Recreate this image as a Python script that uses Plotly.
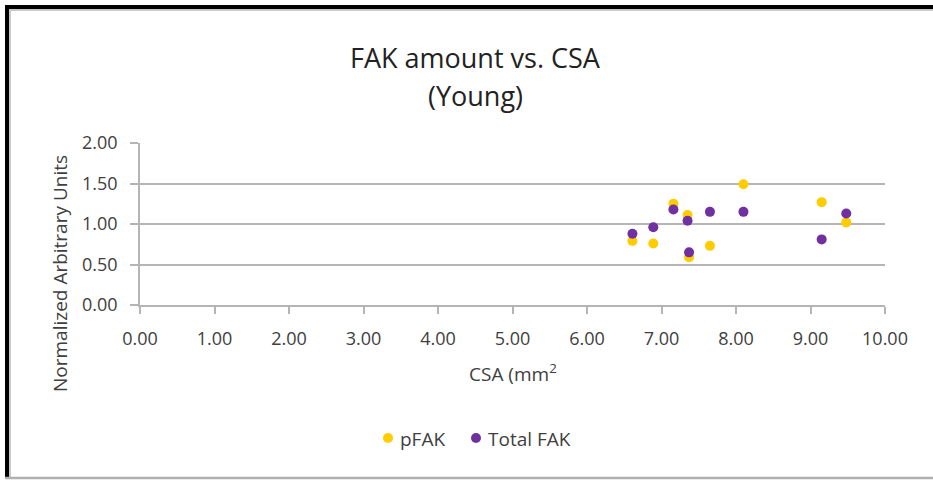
import plotly.graph_objects as go

# CSA (mm^2) per sample and the two normalized FAK measures
csa = [6.61, 6.89, 7.16, 7.35, 7.37, 7.65, 8.10, 9.15, 9.48]
pfak = [0.79, 0.76, 1.25, 1.11, 0.59, 0.73, 1.49, 1.27, 1.02]
total_fak = [0.88, 0.96, 1.18, 1.04, 0.65, 1.15, 1.15, 0.81, 1.13]

series_names = ["pFAK", "Total FAK"]
series_colors = ["#FFCC00", "#7030A0"]

x_ticks = [0, 1, 2, 3, 4, 5, 6, 7, 8, 9, 10]
y_ticks = [0, 0.5, 1.0, 1.5, 2.0]

W, H = 933, 482
L, R, T, B = 140, 885, 143, 305  # plot area in pixels
FONT = "Open Sans"
TXT = "#404040"
GRID = "#b5b5b5"


def px(x):
    return (x - L) / (R - L)


def py(y):
    return (B - y) / (B - T)


fig = go.Figure()
for name, color, ys in zip(series_names, series_colors, [pfak, total_fak]):
    fig.add_trace(go.Scatter(
        x=csa, y=ys, mode="markers", name=name,
        marker=dict(color=color, size=10, line=dict(width=0)),
        cliponaxis=False,
    ))

axis_common = dict(
    showline=True, linecolor=GRID, linewidth=1.5,
    ticks="outside", tickcolor=GRID, tickwidth=1.5,
    tickfont=dict(family=FONT, size=18, color=TXT),
    zeroline=False, fixedrange=True,
)

fig.update_xaxes(
    range=[0, 10], tickvals=x_ticks,
    ticktext=[f"{v:.2f}" for v in x_ticks],
    showgrid=False, ticklen=7, ticklabelstandoff=10, **axis_common,
)
fig.update_yaxes(
    range=[0, 2], tickvals=y_ticks,
    ticktext=[f"{v:.2f}" for v in y_ticks],
    showgrid=True, gridcolor=GRID, gridwidth=1.5,
    ticklen=8, ticklabelstandoff=9, **axis_common,
)

annotations = [
    dict(text="FAK amount vs. CSA", x=px(475), y=py(57),
         font=dict(family=FONT, size=27, color="#222222")),
    dict(text="(Young)", x=px(475), y=py(95),
         font=dict(family=FONT, size=27, color="#222222")),
    dict(text="CSA (mm<sup>2</sup>", x=px(513), y=py(373),
         font=dict(family=FONT, size=19, color=TXT)),
    dict(text="Normalized Arbitrary Units", x=px(60), y=py(274),
         textangle=-90, font=dict(family=FONT, size=19, color=TXT)),
]

# legend row below the axis: a dot and a label per series
legend_dots = [388, 476]
for name, color, cx in zip(series_names, series_colors, legend_dots):
    annotations.append(dict(
        text=name, x=px(cx + 10), y=py(439), xanchor="left",
        font=dict(family=FONT, size=19, color=TXT),
    ))
for a in annotations:
    a.setdefault("xanchor", "center")
    a.update(xref="paper", yref="paper", showarrow=False, yanchor="middle")

shapes = [
    # outer frame: dark top and left edges, lighter inner edge, grey bottom
    dict(type="line", x0=px(5), x1=px(940), y0=py(7), y1=py(7),
         line=dict(color="black", width=4)),
    dict(type="line", x0=px(7), x1=px(7), y0=py(5), y1=py(479),
         line=dict(color="black", width=4)),
    dict(type="line", x0=px(9), x1=px(940), y0=py(10), y1=py(10),
         line=dict(color="#c8c8c8", width=2)),
    dict(type="line", x0=px(10), x1=px(10), y0=py(9), y1=py(477),
         line=dict(color="#c8c8c8", width=2)),
    dict(type="line", x0=px(5), x1=px(940), y0=py(478), y1=py(478),
         line=dict(color="#b0b0b0", width=2.5)),
]
for color, cx in zip(series_colors, legend_dots):
    shapes.append(dict(
        type="circle", x0=px(cx - 5), x1=px(cx + 5),
        y0=py(438 + 5), y1=py(438 - 5),
        fillcolor=color, line=dict(width=0),
    ))
for s in shapes:
    s.update(xref="paper", yref="paper", layer="above")

fig.update_layout(
    width=W, height=H,
    margin=dict(l=L, r=W - R, t=T, b=H - B, pad=0),
    paper_bgcolor="white", plot_bgcolor="white",
    showlegend=False,
    annotations=annotations, shapes=shapes,
)

fig.write_html("out.html")
